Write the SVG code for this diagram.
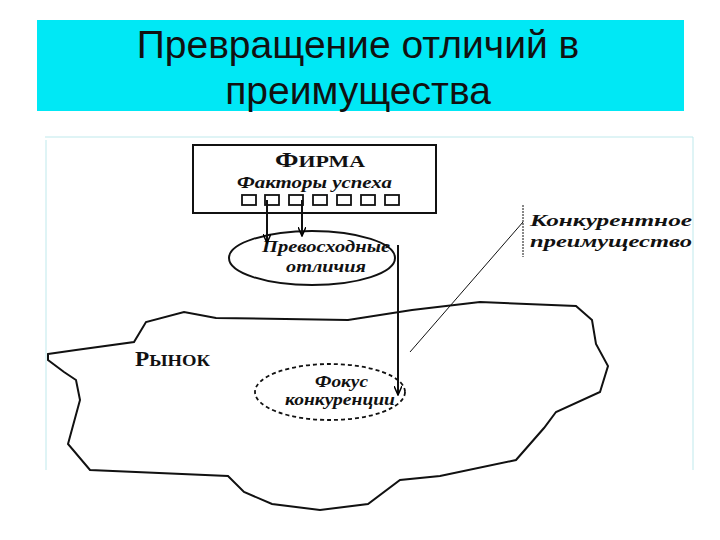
<svg xmlns="http://www.w3.org/2000/svg" width="720" height="540" viewBox="0 0 720 540">
<defs>
<marker id="ah" markerWidth="10" markerHeight="8" refX="9" refY="4" orient="auto" markerUnits="userSpaceOnUse"><path d="M0,0 L9,4 L0,8" fill="none" stroke="#000" stroke-width="1.5"/></marker>
<style>
.t{font-family:"Liberation Serif",serif;font-weight:bold;font-style:italic;font-size:17px;fill:#111}
.s{fill:none;stroke:#111;stroke-width:2}
</style>
</defs>
<rect width="720" height="540" fill="#fff"/>
<rect x="37" y="20" width="647" height="91" fill="#00e8f5"/>
<text x="358" y="58" text-anchor="middle" font-family="Liberation Sans,sans-serif" font-size="39" fill="#111">Превращение отличий в</text>
<text x="358" y="104" text-anchor="middle" font-family="Liberation Sans,sans-serif" font-size="39" fill="#111">преимущества</text>
<g stroke="#bfe9ec" stroke-width="1" fill="none"><path d="M45,137 H693 V470"/><path d="M46,140 V470"/></g>
<g id="market">
<path class="s" d="M48,354 L76,350 L134,342 L146,322 L184,312 L216,318 L348,320 L412,310 L480,302 L576,306 L592,320 L596,344 L608,366 L600,392 L556,412 L544,428 L516,460 L440,476 L400,480 L368,504 L320,510 L272,504 L244,492 L228,476 L90,470 L68,444 L80,400 L76,380 L64,372 L48,360 Z"/>
<text x="135" y="366" font-family="Liberation Serif,serif" font-weight="bold" font-size="20" fill="#111" textLength="75" lengthAdjust="spacingAndGlyphs">Р<tspan font-size="16">ЫНОК</tspan></text>
</g>
<g id="firm">
<rect x="193" y="145" width="243" height="68" fill="#fff" stroke="#111" stroke-width="2"/>
<text x="275" y="167" font-family="Liberation Serif,serif" font-weight="bold" font-size="20" fill="#111" textLength="90" lengthAdjust="spacingAndGlyphs">Ф<tspan font-size="16">ИРМА</tspan></text>
<text class="t" x="237" y="188" textLength="155" lengthAdjust="spacingAndGlyphs">Факторы успеха</text>
<g fill="none" stroke="#111" stroke-width="1.8">
<rect x="242" y="195" width="14" height="10"/><rect x="265" y="195" width="14" height="10"/><rect x="289" y="195" width="14" height="10"/><rect x="313" y="195" width="14" height="10"/><rect x="337" y="195" width="14" height="10"/><rect x="361" y="195" width="14" height="10"/><rect x="385" y="195" width="14" height="10"/>
</g>
</g>
<g id="diff">
<ellipse class="s" cx="312" cy="258" rx="83" ry="27"/>
<text class="t" x="262" y="252" textLength="128" lengthAdjust="spacingAndGlyphs">Превосходные</text>
<text class="t" x="286" y="272" textLength="80" lengthAdjust="spacingAndGlyphs">отличия</text>
</g>
<g id="focus">
<ellipse cx="330" cy="392" rx="75" ry="28" fill="none" stroke="#111" stroke-width="1.8" stroke-dasharray="4,3"/>
<text class="t" x="315" y="387" textLength="53" lengthAdjust="spacingAndGlyphs">Фокус</text>
<text class="t" x="285" y="405" textLength="110" lengthAdjust="spacingAndGlyphs">конкуренции</text>
</g>
<g id="advantage">
<text class="t" x="530" y="226" font-size="18" textLength="162" lengthAdjust="spacingAndGlyphs">Конкурентное</text>
<text class="t" x="530" y="247" font-size="18" textLength="162" lengthAdjust="spacingAndGlyphs">преимущество</text>
</g>
<g id="connectors" fill="none" stroke="#111">
<path d="M267,200 V243" stroke-width="2" marker-end="url(#ah)"/>
<path d="M302,200 V236" stroke-width="2" marker-end="url(#ah)"/>
<path d="M398,245 V395" stroke-width="2" marker-end="url(#ah)"/>
<path d="M410,352 L523,222" stroke-width="1"/>
<path d="M523,205 V257" stroke-width="1" stroke-dasharray="2,1"/>
</g>
</svg>
